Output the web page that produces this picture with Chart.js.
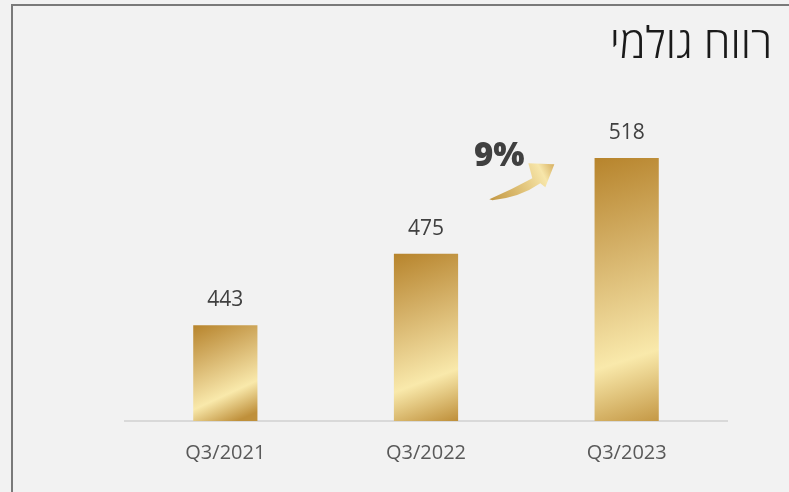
<!DOCTYPE html>
<html lang="he">
<head>
<meta charset="utf-8">
<script src="https://cdn.jsdelivr.net/npm/chart.js@4/dist/chart.umd.min.js"></script>
<style>
  html, body { margin: 0; padding: 0; background: #f2f2f2; }
  #wrap { position: relative; width: 789px; height: 492px; overflow: hidden; }
  #frame { position: absolute; left: 11px; top: 4px; width: 800px; height: 520px;
           border: 2px solid #7a7a7a; box-sizing: border-box; }
  canvas { position: absolute; left: 0; top: 0; }
</style>
</head>
<body>
<div id="wrap">
  <div id="frame"></div>
  <canvas id="chart" width="789" height="492"></canvas>
</div>
<script>
const categories = ["Q3/2021", "Q3/2022", "Q3/2023"];
const grossProfit = [443, 475, 518];
const chartTitle = "רווח גולמי";
const growthLabel = "9%";

/* ========== gold gradient per bar ========== */
function goldFill(ctx) {
  const chart = ctx.chart;
  const { chartArea, scales } = chart;
  if (!chartArea || ctx.raw === undefined) return "#d4b060";
  const half = (chartArea.width / categories.length) * 0.32 / 2;
  const x = scales.x.getPixelForValue(ctx.dataIndex);
  const top = scales.y.getPixelForValue(ctx.raw);
  const bottom = scales.y.getPixelForValue(scales.y.min);
  const h = bottom - top;
  const g = chart.ctx.createLinearGradient(x - half, top, x - half + h * 0.25 + 20, bottom);
  g.addColorStop(0, "#b7842c");
  g.addColorStop(0.33, "#d4b067");
  g.addColorStop(0.58, "#ebd392");
  g.addColorStop(0.73, "#f9e9ab");
  g.addColorStop(1, "#bf903b");
  return g;
}

/* ========== title, value labels, growth arrow ========== */
const extras = {
  id: "extras",
  afterDatasetsDraw(chart) {
    const { ctx, scales } = chart;
    const xs = scales.x, ys = scales.y;
    ctx.save();

    // title
    ctx.fillStyle = "#1a1a1a";
    ctx.font = "300 43px 'Open Sans', 'DejaVu Sans', sans-serif";
    ctx.textAlign = "right";
    ctx.textBaseline = "middle";
    ctx.fillText(chartTitle, 772, 46);

    // value labels
    ctx.fillStyle = "#404040";
    ctx.font = "21px 'Open Sans', sans-serif";
    ctx.textAlign = "center";
    grossProfit.forEach((v, i) => {
      ctx.fillText(String(v), xs.getPixelForValue(i), ys.getPixelForValue(v) - 25);
    });

    // growth arrow between 2nd and 3rd bar
    const bx = xs.getPixelForValue(1.5);
    const by = ys.getPixelForValue(500);
    const p = (dx, dy) => [bx + dx, by + dy];
    const grad = ctx.createLinearGradient(...p(-37, 0), ...p(28, -34));
    grad.addColorStop(0, "#c39844");
    grad.addColorStop(0.45, "#e0c278");
    grad.addColorStop(0.8, "#f7e6aa");
    grad.addColorStop(1, "#d6af60");
    ctx.fillStyle = grad;
    ctx.beginPath();
    ctx.moveTo(...p(-37, 1));
    ctx.quadraticCurveTo(...p(-14, -9), ...p(6, -20));
    ctx.lineTo(...p(2, -35));
    ctx.lineTo(...p(28, -34));
    ctx.lineTo(...p(19, -11));
    ctx.lineTo(...p(14, -15));
    ctx.quadraticCurveTo(...p(-6, -1), ...p(-34, 2));
    ctx.closePath();
    ctx.fill();

    ctx.fillStyle = "#404040";
    ctx.font = "800 33px 'Open Sans', sans-serif";
    ctx.textAlign = "center";
    ctx.fillText(growthLabel, bx - 27, by - 42);

    ctx.restore();
  }
};

new Chart(document.getElementById("chart"), {
  type: "bar",
  data: {
    labels: categories,
    datasets: [{
      data: grossProfit,
      backgroundColor: goldFill,
      categoryPercentage: 1,
      barPercentage: 0.32
    }]
  },
  options: {
    responsive: false,
    animation: false,
    layout: { padding: { left: 125, right: 62, top: 109, bottom: 0 } },
    plugins: {
      legend: { display: false },
      title: { display: false },
      tooltip: { enabled: false }
    },
    scales: {
      x: {
        grid: { display: false, drawTicks: false },
        border: { display: true, color: "#d9d9d9", width: 2 },
        ticks: { color: "#595959", font: { family: "'Open Sans', sans-serif", size: 20 }, padding: 20 },
        afterFit: s => { s.height = 71; }
      },
      y: {
        display: false,
        min: 400,
        max: 540
      }
    }
  },
  plugins: [extras]
});
</script>
</body>
</html>
